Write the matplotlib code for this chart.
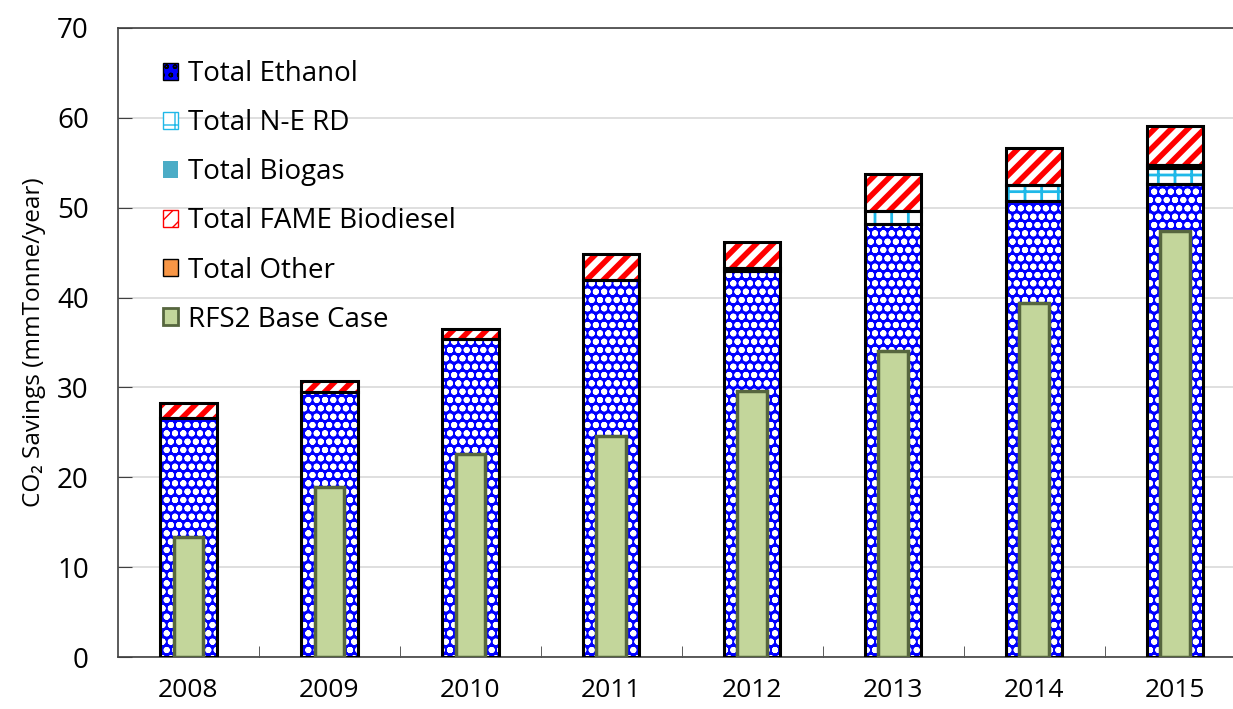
import numpy as np
import matplotlib.pyplot as plt
from matplotlib.patches import Patch

plt.rcParams['font.family'] = ['Open Sans', 'DejaVu Sans']

years = ['2008', '2009', '2010', '2011', '2012', '2013', '2014', '2015']
ethanol = [26.6, 29.5, 35.4, 41.9, 43.0, 48.2, 50.7, 52.6]
ne_rd = [0.0, 0.0, 0.0, 0.0, 0.3, 1.4, 1.8, 1.8]
biogas = [0.0, 0.0, 0.0, 0.0, 0.0, 0.0, 0.0, 0.3]
fame = [1.7, 1.2, 1.1, 2.9, 2.9, 4.2, 4.2, 4.4]
other = [0.0, 0.0, 0.0, 0.0, 0.0, 0.0, 0.0, 0.0]
base_case = [13.3, 18.9, 22.6, 24.6, 29.6, 34.0, 39.4, 47.4]

fig = plt.figure(figsize=(12.33, 7.09), dpi=100)
ax = fig.add_axes([118/1233, 52/709, 1127.5/1233, 629/709])

x = np.arange(len(years))
w = 0.40

def layer(vals, bottom, face, hatch, hcolor, hlw):
    # fond + motif, puis contour noir par-dessus
    old = plt.rcParams['hatch.linewidth']
    plt.rcParams['hatch.linewidth'] = hlw
    bars = ax.bar(x, vals, w, bottom=bottom, color=face, edgecolor=hcolor,
                  hatch=hatch, linewidth=0, zorder=2)
    for b in bars:
        if hasattr(b, 'set_hatch_linewidth'):
            b.set_hatch_linewidth(hlw)
    plt.rcParams['hatch.linewidth'] = old
    ax.bar(x, vals, w, bottom=bottom, color='none', edgecolor='black',
           linewidth=2.2, zorder=3)

bottom = np.zeros(len(years))
layer(ethanol, bottom, '#0000FF', 'oo', 'white', 2.0)
bottom += ethanol
layer(np.where(np.array(ne_rd) > 0, ne_rd, np.nan), bottom, 'white', '+', '#1FB8E8', 2.0)
bottom += ne_rd
layer(np.where(np.array(biogas) > 0, biogas, np.nan), bottom, '#4BACC6', None, '#4BACC6', 1.0)
bottom += biogas
layer(fame, bottom, 'white', '//', '#FF0000', 4.0)
bottom += fame

ax.bar(x, base_case, 0.21, color='#C3D69B', edgecolor='#56663E',
       linewidth=2.5, zorder=4)

ax.set_xlim(-0.5, len(years) - 0.5)
ax.set_ylim(0, 70)
ax.set_yticks(range(0, 71, 10))
ax.set_xticks(x)
ax.set_xticklabels(years)
ax.set_xticks(np.arange(0.5, len(years) - 0.5, 1), minor=True)
ax.tick_params(axis='x', which='major', length=0, pad=15, labelsize=19)
ax.tick_params(axis='x', which='minor', direction='in', length=8, color='#404040')
ax.tick_params(axis='y', direction='in', length=10, color='#404040', pad=21, labelsize=20)
ax.yaxis.grid(True, color='#D9D9D9', linewidth=1.2, zorder=0)
ax.set_axisbelow(True)
for s in ['left', 'bottom', 'top']:
    ax.spines[s].set_color('#404040')
    ax.spines[s].set_linewidth(1.2)
ax.spines['right'].set_visible(False)
ax.set_ylabel('CO₂ Savings (mmTonne/year)', fontsize=17.5, labelpad=8)

handles = [
    Patch(facecolor='#0000FF', edgecolor='black', hatch='oo'),
    Patch(facecolor='white', edgecolor='#1FB8E8', hatch='+'),
    Patch(facecolor='#4BACC6', edgecolor='none'),
    Patch(facecolor='white', edgecolor='#FF0000', hatch='//'),
    Patch(facecolor='#F79646', edgecolor='black'),
    Patch(facecolor='#C3D69B', edgecolor='#56663E', linewidth=2),
]
labels = ['Total Ethanol', 'Total N-E RD', 'Total Biogas', 'Total FAME Biodiesel',
          'Total Other', 'RFS2 Base Case']
leg = ax.legend(handles, labels, loc='upper left', frameon=False, fontsize=20,
                labelspacing=0.76, handlelength=0.55, handleheight=0.55,
                handletextpad=0.35, borderpad=0, borderaxespad=0,
                bbox_to_anchor=(0.040, 0.949))

fig.savefig('out.png', dpi=100)
